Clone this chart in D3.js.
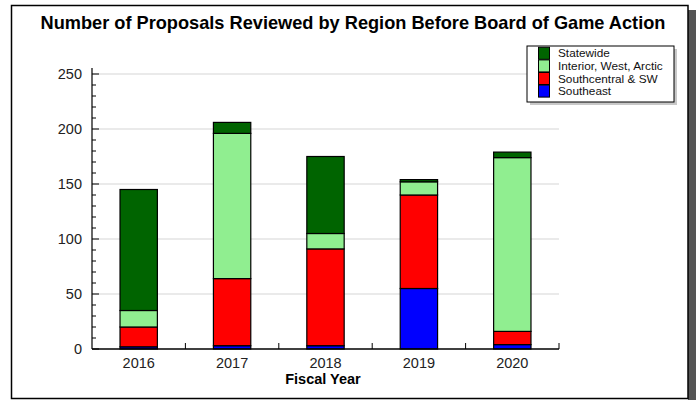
<!DOCTYPE html>
<html><head><meta charset="utf-8">
<script src="https://cdn.jsdelivr.net/npm/d3@7"></script>
<style>body{margin:0;background:#fff}svg{display:block;font-family:"Liberation Sans",Arial,sans-serif}</style>
</head><body><svg id="c" width="696" height="400"></svg>
<script>
const years = ["2016","2017","2018","2019","2020"];
const southeast = [2, 3, 3, 55, 4];
const southcentral = [18, 61, 88, 85, 12];
const interior = [15, 132, 14, 12, 158];
const statewide = [110, 10, 70, 2, 5];
const yTicks = [0, 50, 100, 150, 200, 250];
const seriesNames = ["Southeast","Southcentral & SW","Interior, West, Arctic","Statewide"];
const seriesColors = ["#0000ff","#ff0000","#90ee90","#006400"];

const svg = d3.select("#c");
// frame + shadow
svg.append("rect").attr("x",688).attr("y",10).attr("width",8).attr("height",390).attr("fill","#555");
svg.append("rect").attr("x",11.5).attr("y",5.5).attr("width",676.5).attr("height",393).attr("fill","#fff").attr("stroke","#000").attr("stroke-width",1.5);

svg.append("text").attr("x",353).attr("y",29).attr("text-anchor","middle")
  .attr("font-size",18.2).attr("font-weight","bold").text("Number of Proposals Reviewed by Region Before Board of Game Action");

const pLeft=92, pRight=559, pTop=74, pBottom=349;
const x = d3.scaleBand().domain(years).range([pLeft,pRight]).paddingInner(0.6).paddingOuter(0.3);
const xb = d3.scaleBand().domain(years).range([pLeft,pRight]);
const y = d3.scaleLinear().domain([0,250]).range([pBottom,pTop]);

// gridlines
svg.append("g").selectAll("line").data(yTicks.filter(d=>d>0)).join("line")
  .attr("x1",pLeft).attr("x2",pRight).attr("y1",d=>y(d)).attr("y2",d=>y(d))
  .attr("stroke","#e3e3e3").attr("stroke-width",1.5);

// stacked bars
const rows = years.map((yr,i)=>({year:yr, Southeast:southeast[i], "Southcentral & SW":southcentral[i], "Interior, West, Arctic":interior[i], Statewide:statewide[i]}));
const stack = d3.stack().keys(seriesNames)(rows);
svg.append("g").selectAll("g").data(stack).join("g").attr("fill",(d,i)=>seriesColors[i])
  .selectAll("rect").data(d=>d).join("rect")
  .attr("x",d=>x(d.data.year)).attr("width",x.bandwidth())
  .attr("y",d=>y(d[1])).attr("height",d=>y(d[0])-y(d[1]))
  .attr("stroke","#000").attr("stroke-width",1.2);

// y axis
const yAxis = d3.axisLeft(y).tickValues(yTicks).tickSize(0).tickPadding(10);
const gy = svg.append("g").attr("transform",`translate(${pLeft},0)`).call(yAxis);
gy.select(".domain").remove();
gy.selectAll("text").attr("font-size",14.5).attr("fill","#222").attr("font-family","Liberation Sans, Arial, sans-serif");
svg.append("line").attr("x1",pLeft).attr("x2",pLeft).attr("y1",y(250)-6).attr("y2",pBottom).attr("stroke","#000").attr("stroke-width",1.2);
const minor = d3.range(0,251,10);
svg.append("g").selectAll("line").data(minor).join("line")
  .attr("x1",pLeft).attr("x2",d=>pLeft+(d%50===0?7:4)).attr("y1",d=>y(d)).attr("y2",d=>y(d))
  .attr("stroke","#000").attr("stroke-width",1);

// x axis
const xAxis = d3.axisBottom(x).tickSize(0).tickPadding(9);
const gx = svg.append("g").attr("transform",`translate(0,${pBottom})`).call(xAxis);
gx.select(".domain").remove();
gx.selectAll("text").attr("font-size",14.5).attr("fill","#222").attr("font-family","Liberation Sans, Arial, sans-serif");
svg.append("line").attr("x1",pLeft).attr("x2",pRight).attr("y1",pBottom).attr("y2",pBottom).attr("stroke","#000").attr("stroke-width",1.5);
svg.append("g").selectAll("line").data(years).join("line")
  .attr("x1",d=>xb(d)+xb.bandwidth()).attr("x2",d=>xb(d)+xb.bandwidth())
  .attr("y1",pBottom).attr("y2",pBottom-6).attr("stroke","#000").attr("stroke-width",1);

svg.append("text").attr("x",323).attr("y",384).attr("text-anchor","middle")
  .attr("font-size",14.5).attr("font-weight","bold").text("Fiscal Year");

// legend
const lg = svg.append("g");
lg.append("rect").attr("x",530).attr("y",49).attr("width",147).attr("height",56).attr("fill","#c8c8c8");
lg.append("rect").attr("x",527).attr("y",46).attr("width",147).attr("height",56).attr("fill","#fff").attr("stroke","#000").attr("stroke-width",1);
const legendOrder = [3,2,1,0];
legendOrder.forEach((si,k)=>{
  const cy = 53.3 + k*12.6;
  lg.append("rect").attr("x",538.5).attr("y",cy-6).attr("width",11).attr("height",12)
    .attr("fill",seriesColors[si]).attr("stroke","#000").attr("stroke-width",1);
  lg.append("text").attr("x",558).attr("y",cy+4).attr("font-size",11.8).attr("fill","#111")
    .text(seriesNames[si]);
});
</script></body></html>
